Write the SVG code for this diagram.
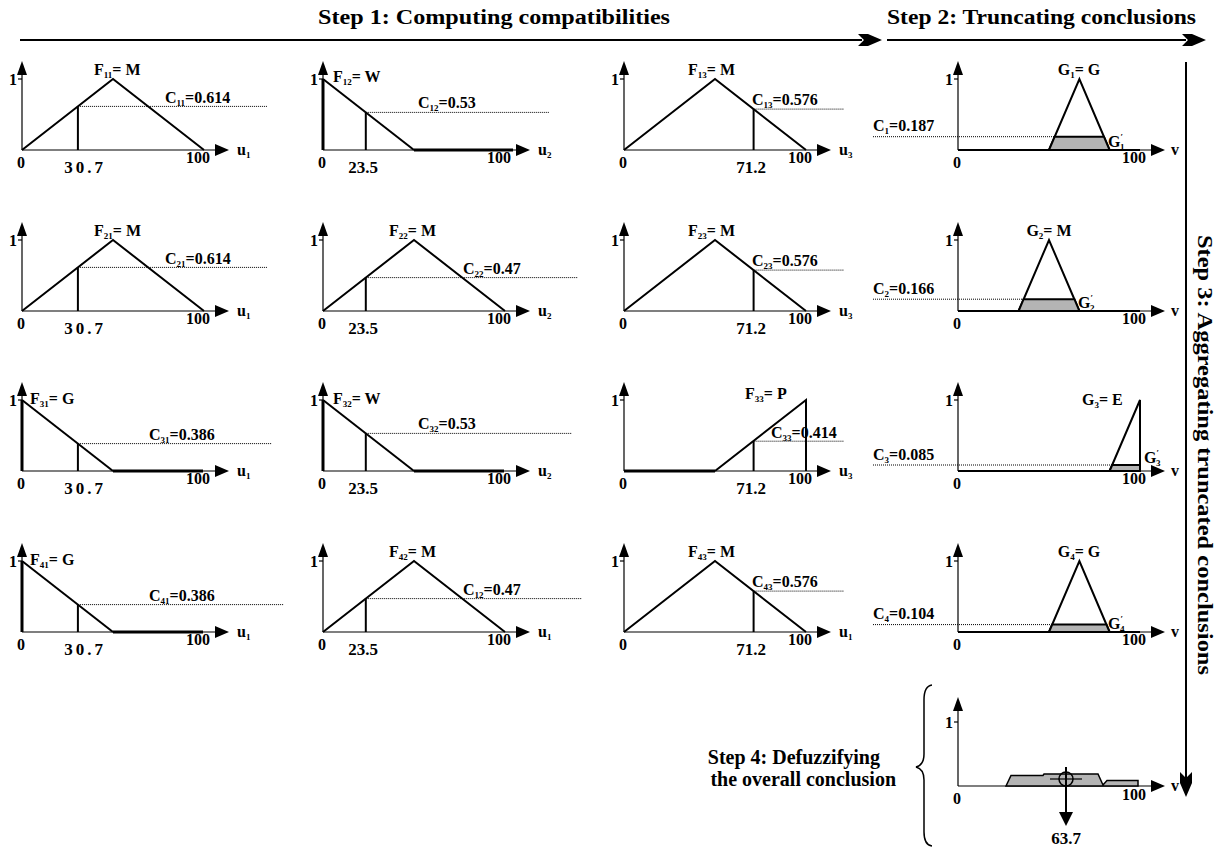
<svg xmlns="http://www.w3.org/2000/svg" xmlns:xlink="http://www.w3.org/1999/xlink" width="1223" height="848" viewBox="0 0 1223 848">
<style>
.ax{stroke:#000;stroke-width:1.2;fill:none}
.fn{stroke:#000;stroke-width:2;fill:none}
.thk{stroke:#000;stroke-width:3;fill:none}
.dot{stroke:#000;stroke-width:1;stroke-dasharray:1 1;fill:none}
.ah{fill:#000;stroke:none}
.t{font-family:"Liberation Serif","Times New Roman",serif;font-weight:bold;fill:#000}
.lbl{font-size:16px}
.num{font-size:17px}
.sub{font-size:9px}
.ttl{font-size:20px}
.trap{fill:#b4b4b4;stroke:#000;stroke-width:2}
.mid{text-anchor:middle}
.end{text-anchor:end}
</style>
<defs>
<g id="axes">
<line class="ax" x1="0" y1="0" x2="0" y2="-77"/>
<polygon class="ah" points="-5,-75 0,-89 5,-75"/>
<line class="ax" x1="-4" y1="-71" x2="0" y2="-71"/>
<line class="ax" x1="0" y1="0" x2="195" y2="0"/>
<polygon class="ah" points="193,-6 207,0 193,6"/>
<text class="t lbl end" x="-5" y="-65">1</text>
<text class="t lbl mid" x="-1" y="18">0</text>
<text class="t lbl mid" x="176" y="13">100</text>
</g>
</defs>

<g id="titles">
<text class="t ttl" x="318" y="24" textLength="352" lengthAdjust="spacingAndGlyphs">Step 1: Computing compatibilities</text>
<text class="t ttl" x="887" y="24" textLength="309" lengthAdjust="spacingAndGlyphs">Step 2: Truncating conclusions</text>
<text class="t ttl mid" transform="translate(1198,455) rotate(90)" x="0" y="0" textLength="440" lengthAdjust="spacingAndGlyphs">Step 3: Aggregating truncated conclusions</text>
<text class="t end" style="font-size:20px" x="880" y="764">Step 4: Defuzzifying</text>
<text class="t end" style="font-size:20px" x="896" y="786">the overall conclusion</text>
</g>

<g id="connectors">
<line class="fn" x1="20" y1="40" x2="862" y2="40"/>
<polygon class="ah" points="858,34 864,40 858,46 868,46 882,40 868,34"/>
<line class="fn" x1="887" y1="40" x2="1186" y2="40"/>
<polygon class="ah" points="1182,34 1188,40 1182,46 1192,46 1206,40 1192,34"/>
<line class="fn" x1="1186" y1="62" x2="1186" y2="778"/>
<polygon class="ah" points="1180,772 1186,778 1192,772 1192,783 1186,797 1180,783"/>
<path class="fn" style="stroke-width:1.5" d="M932,685 Q924,686 924,700 L924,754 Q924,765 916,767 Q924,769 924,780 L924,832 Q924,845 932,846"/>
</g>

<!-- Row 1 -->
<g id="F11" transform="translate(22,150)">
<use xlink:href="#axes"/>
<polyline class="fn" points="0,0 91,-71 182,0"/>
<line class="fn" x1="55.9" y1="0" x2="55.9" y2="-43.6"/>
<line class="dot" x1="55.9" y1="-43.6" x2="245" y2="-43.6"/>
<text class="t lbl" x="72" y="-75">F<tspan class="sub" dy="3">11</tspan><tspan dy="-3">= M</tspan></text>
<text class="t lbl" x="143" y="-47">C<tspan class="sub" dy="3">11</tspan><tspan dy="-3">=0.614</tspan></text>
<text class="t num mid" x="63" y="23" letter-spacing="3">30.7</text>
<text class="t lbl" x="215" y="5">u<tspan class="sub" dy="3">1</tspan></text>
</g>
<g id="F12" transform="translate(323,150)">
<use xlink:href="#axes"/>
<line class="thk" x1="0" y1="0" x2="0" y2="-71"/>
<polyline class="fn" points="0,-71 91,0"/>
<line class="thk" x1="91" y1="0" x2="190" y2="0"/>
<line class="fn" x1="42.8" y1="0" x2="42.8" y2="-37.6"/>
<line class="dot" x1="42.8" y1="-37.6" x2="226" y2="-37.6"/>
<text class="t lbl" x="10" y="-68">F<tspan class="sub" dy="3">12</tspan><tspan dy="-3">= W</tspan></text>
<text class="t lbl" x="95" y="-42">C<tspan class="sub" dy="3">12</tspan><tspan dy="-3">=0.53</tspan></text>
<text class="t num mid" x="40" y="23">23.5</text>
<text class="t lbl" x="215" y="5">u<tspan class="sub" dy="3">2</tspan></text>
</g>
<g id="F13" transform="translate(624,150)">
<use xlink:href="#axes"/>
<polyline class="fn" points="0,0 91,-71 182,0"/>
<line class="fn" x1="129.6" y1="0" x2="129.6" y2="-40.9"/>
<line class="dot" x1="129.6" y1="-40.9" x2="220" y2="-40.9"/>
<text class="t lbl" x="64" y="-75">F<tspan class="sub" dy="3">13</tspan><tspan dy="-3">= M</tspan></text>
<text class="t lbl" x="128" y="-45">C<tspan class="sub" dy="3">13</tspan><tspan dy="-3">=0.576</tspan></text>
<text class="t num mid" x="127" y="23">71.2</text>
<text class="t lbl" x="215" y="5">u<tspan class="sub" dy="3">3</tspan></text>
</g>
<g id="G1" transform="translate(958,150)">
<use xlink:href="#axes"/>
<line class="fn" x1="0" y1="0" x2="182" y2="0"/>
<polyline class="fn" points="91,0 121.4,-71 151.6,0"/>
<polygon class="trap" points="91,0 96.7,-13.3 145.9,-13.3 151.6,0"/>
<line class="dot" x1="-85" y1="-13.3" x2="96.7" y2="-13.3"/>
<text class="t lbl" x="-85" y="-19">C<tspan class="sub" dy="3">1</tspan><tspan dy="-3">=0.187</tspan></text>
<text class="t lbl mid" x="121" y="-75">G<tspan class="sub" dy="3">1</tspan><tspan dy="-3">= G</tspan></text>
<text class="t lbl" x="150" y="-3">G<tspan class="sub" dy="-7">′</tspan><tspan class="sub" dx="-3" dy="10">1</tspan></text>
<text class="t lbl" x="213" y="5">v</text>
</g>

<!-- Row 2 -->
<g id="F21" transform="translate(22,311)">
<use xlink:href="#axes"/>
<polyline class="fn" points="0,0 91,-71 182,0"/>
<line class="fn" x1="55.9" y1="0" x2="55.9" y2="-43.6"/>
<line class="dot" x1="55.9" y1="-43.6" x2="245" y2="-43.6"/>
<text class="t lbl" x="72" y="-75">F<tspan class="sub" dy="3">21</tspan><tspan dy="-3">= M</tspan></text>
<text class="t lbl" x="143" y="-47">C<tspan class="sub" dy="3">21</tspan><tspan dy="-3">=0.614</tspan></text>
<text class="t num mid" x="63" y="23" letter-spacing="3">30.7</text>
<text class="t lbl" x="215" y="5">u<tspan class="sub" dy="3">1</tspan></text>
</g>
<g id="F22" transform="translate(323,311)">
<use xlink:href="#axes"/>
<polyline class="fn" points="0,0 91,-71 182,0"/>
<line class="fn" x1="42.8" y1="0" x2="42.8" y2="-33.4"/>
<line class="dot" x1="42.8" y1="-33.4" x2="255" y2="-33.4"/>
<text class="t lbl" x="66" y="-75">F<tspan class="sub" dy="3">22</tspan><tspan dy="-3">= M</tspan></text>
<text class="t lbl" x="140" y="-37">C<tspan class="sub" dy="3">22</tspan><tspan dy="-3">=0.47</tspan></text>
<text class="t num mid" x="40" y="23">23.5</text>
<text class="t lbl" x="215" y="5">u<tspan class="sub" dy="3">2</tspan></text>
</g>
<g id="F23" transform="translate(624,311)">
<use xlink:href="#axes"/>
<polyline class="fn" points="0,0 91,-71 182,0"/>
<line class="fn" x1="129.6" y1="0" x2="129.6" y2="-40.9"/>
<line class="dot" x1="129.6" y1="-40.9" x2="220" y2="-40.9"/>
<text class="t lbl" x="64" y="-75">F<tspan class="sub" dy="3">23</tspan><tspan dy="-3">= M</tspan></text>
<text class="t lbl" x="128" y="-45">C<tspan class="sub" dy="3">23</tspan><tspan dy="-3">=0.576</tspan></text>
<text class="t num mid" x="127" y="23">71.2</text>
<text class="t lbl" x="215" y="5">u<tspan class="sub" dy="3">3</tspan></text>
</g>
<g id="G2" transform="translate(958,311)">
<use xlink:href="#axes"/>
<line class="fn" x1="0" y1="0" x2="182" y2="0"/>
<polyline class="fn" points="60.6,0 91,-71 121.4,0"/>
<polygon class="trap" points="60.6,0 65.6,-11.8 116.4,-11.8 121.4,0"/>
<line class="dot" x1="-85" y1="-11.8" x2="65.6" y2="-11.8"/>
<text class="t lbl" x="-85" y="-17">C<tspan class="sub" dy="3">2</tspan><tspan dy="-3">=0.166</tspan></text>
<text class="t lbl mid" x="91" y="-75">G<tspan class="sub" dy="3">2</tspan><tspan dy="-3">= M</tspan></text>
<text class="t lbl" x="120" y="-3">G<tspan class="sub" dy="-7">′</tspan><tspan class="sub" dx="-3" dy="10">2</tspan></text>
<text class="t lbl" x="213" y="5">v</text>
</g>

<!-- Row 3 -->
<g id="F31" transform="translate(22,471)">
<use xlink:href="#axes"/>
<line class="thk" x1="0" y1="0" x2="0" y2="-71"/>
<polyline class="fn" points="0,-71 91,0"/>
<line class="thk" x1="91" y1="0" x2="181" y2="0"/>
<line class="fn" x1="55.9" y1="0" x2="55.9" y2="-27.4"/>
<line class="dot" x1="55.9" y1="-27.4" x2="250" y2="-27.4"/>
<text class="t lbl" x="8" y="-67">F<tspan class="sub" dy="3">31</tspan><tspan dy="-3">= G</tspan></text>
<text class="t lbl" x="127" y="-31">C<tspan class="sub" dy="3">31</tspan><tspan dy="-3">=0.386</tspan></text>
<text class="t num mid" x="63" y="23" letter-spacing="3">30.7</text>
<text class="t lbl" x="215" y="5">u<tspan class="sub" dy="3">1</tspan></text>
</g>
<g id="F32" transform="translate(323,471)">
<use xlink:href="#axes"/>
<line class="thk" x1="0" y1="0" x2="0" y2="-71"/>
<polyline class="fn" points="0,-71 91,0"/>
<line class="thk" x1="91" y1="0" x2="181" y2="0"/>
<line class="fn" x1="42.8" y1="0" x2="42.8" y2="-37.6"/>
<line class="dot" x1="42.8" y1="-37.6" x2="249" y2="-37.6"/>
<text class="t lbl" x="10" y="-67">F<tspan class="sub" dy="3">32</tspan><tspan dy="-3">= W</tspan></text>
<text class="t lbl" x="95" y="-42">C<tspan class="sub" dy="3">32</tspan><tspan dy="-3">=0.53</tspan></text>
<text class="t num mid" x="40" y="23">23.5</text>
<text class="t lbl" x="215" y="5">u<tspan class="sub" dy="3">2</tspan></text>
</g>
<g id="F33" transform="translate(624,471)">
<use xlink:href="#axes"/>
<line class="thk" x1="0" y1="0" x2="91" y2="0"/>
<polyline class="fn" points="91,0 182,-71 182,0"/>
<line class="fn" x1="129.6" y1="0" x2="129.6" y2="-29.8"/>
<line class="dot" x1="129.6" y1="-29.8" x2="220" y2="-29.8"/>
<text class="t lbl" x="121" y="-72">F<tspan class="sub" dy="3">33</tspan><tspan dy="-3">= P</tspan></text>
<text class="t lbl" x="147" y="-33">C<tspan class="sub" dy="3">33</tspan><tspan dy="-3">=0.414</tspan></text>
<text class="t num mid" x="127" y="23">71.2</text>
<text class="t lbl" x="215" y="5">u<tspan class="sub" dy="3">3</tspan></text>
</g>
<g id="G3" transform="translate(958,471)">
<use xlink:href="#axes"/>
<line class="fn" x1="0" y1="0" x2="182" y2="0"/>
<polyline class="fn" points="151.6,0 182,-71 182,0"/>
<polygon class="trap" points="151.6,0 154.2,-6 182,-6 182,0"/>
<line class="dot" x1="-85" y1="-6" x2="154.2" y2="-6"/>
<text class="t lbl" x="-85" y="-11">C<tspan class="sub" dy="3">3</tspan><tspan dy="-3">=0.085</tspan></text>
<text class="t lbl" x="124" y="-66">G<tspan class="sub" dy="3">3</tspan><tspan dy="-3">= E</tspan></text>
<text class="t lbl" x="186" y="-8">G<tspan class="sub" dy="-7">′</tspan><tspan class="sub" dx="-3" dy="10">3</tspan></text>
<text class="t lbl" x="213" y="5">v</text>
</g>

<!-- Row 4 -->
<g id="F41" transform="translate(22,632)">
<use xlink:href="#axes"/>
<line class="thk" x1="0" y1="0" x2="0" y2="-71"/>
<polyline class="fn" points="0,-71 91,0"/>
<line class="thk" x1="91" y1="0" x2="181" y2="0"/>
<line class="fn" x1="55.9" y1="0" x2="55.9" y2="-27.4"/>
<line class="dot" x1="55.9" y1="-27.4" x2="262" y2="-27.4"/>
<text class="t lbl" x="8" y="-67">F<tspan class="sub" dy="3">41</tspan><tspan dy="-3">= G</tspan></text>
<text class="t lbl" x="127" y="-31">C<tspan class="sub" dy="3">41</tspan><tspan dy="-3">=0.386</tspan></text>
<text class="t num mid" x="63" y="23" letter-spacing="3">30.7</text>
<text class="t lbl" x="215" y="5">u<tspan class="sub" dy="3">1</tspan></text>
</g>
<g id="F42" transform="translate(323,632)">
<use xlink:href="#axes"/>
<polyline class="fn" points="0,0 91,-71 182,0"/>
<line class="fn" x1="42.8" y1="0" x2="42.8" y2="-33.4"/>
<line class="dot" x1="42.8" y1="-33.4" x2="259" y2="-33.4"/>
<text class="t lbl" x="66" y="-75">F<tspan class="sub" dy="3">42</tspan><tspan dy="-3">= M</tspan></text>
<text class="t lbl" x="140" y="-37">C<tspan class="sub" dy="3">12</tspan><tspan dy="-3">=0.47</tspan></text>
<text class="t num mid" x="40" y="23">23.5</text>
<text class="t lbl" x="215" y="5">u<tspan class="sub" dy="3">1</tspan></text>
</g>
<g id="F43" transform="translate(624,632)">
<use xlink:href="#axes"/>
<polyline class="fn" points="0,0 91,-71 182,0"/>
<line class="fn" x1="129.6" y1="0" x2="129.6" y2="-40.9"/>
<line class="dot" x1="129.6" y1="-40.9" x2="220" y2="-40.9"/>
<text class="t lbl" x="64" y="-75">F<tspan class="sub" dy="3">43</tspan><tspan dy="-3">= M</tspan></text>
<text class="t lbl" x="128" y="-45">C<tspan class="sub" dy="3">43</tspan><tspan dy="-3">=0.576</tspan></text>
<text class="t num mid" x="127" y="23">71.2</text>
<text class="t lbl" x="215" y="5">u<tspan class="sub" dy="3">1</tspan></text>
</g>
<g id="G4" transform="translate(958,632)">
<use xlink:href="#axes"/>
<line class="fn" x1="0" y1="0" x2="182" y2="0"/>
<polyline class="fn" points="91,0 121.4,-71 151.6,0"/>
<polygon class="trap" points="91,0 94.2,-7.4 148.4,-7.4 151.6,0"/>
<line class="dot" x1="-85" y1="-7.4" x2="94.2" y2="-7.4"/>
<text class="t lbl" x="-85" y="-13">C<tspan class="sub" dy="3">4</tspan><tspan dy="-3">=0.104</tspan></text>
<text class="t lbl mid" x="121" y="-75">G<tspan class="sub" dy="3">4</tspan><tspan dy="-3">= G</tspan></text>
<text class="t lbl" x="150" y="-3">G<tspan class="sub" dy="-7">′</tspan><tspan class="sub" dx="-3" dy="10">4</tspan></text>
<text class="t lbl" x="213" y="5">v</text>
</g>

<!-- Step 4 -->
<g id="Result" transform="translate(958,786)">
<line class="ax" x1="0" y1="0" x2="0" y2="-76"/>
<polygon class="ah" points="-5,-75 0,-89 5,-75"/>
<line class="ax" x1="-4" y1="-64" x2="0" y2="-64"/>
<line class="ax" x1="0" y1="0" x2="195" y2="0"/>
<polygon class="ah" points="193,-6 207,0 193,6"/>
<text class="t lbl end" x="-5" y="-58">1</text>
<text class="t lbl mid" x="-1" y="18">0</text>
<text class="t lbl mid" x="176" y="14">100</text>
<text class="t lbl" x="213" y="5">v</text>
<polygon class="trap" style="stroke-width:1.5" points="48,0 53,-10.6 85,-10.6 86,-12 140,-12 145,-1 149,-5.4 180,-5.4 180,0"/>
<circle cx="108" cy="-7" r="7" fill="none" stroke="#000" stroke-width="1.5"/>
<line class="ax" x1="92" y1="-7" x2="124" y2="-7"/>
<line class="fn" x1="108" y1="-19" x2="108" y2="28"/>
<polygon class="ah" points="101,26 108,40 115,26"/>
<text class="t num mid" x="108" y="58">63.7</text>
</g>
</svg>
